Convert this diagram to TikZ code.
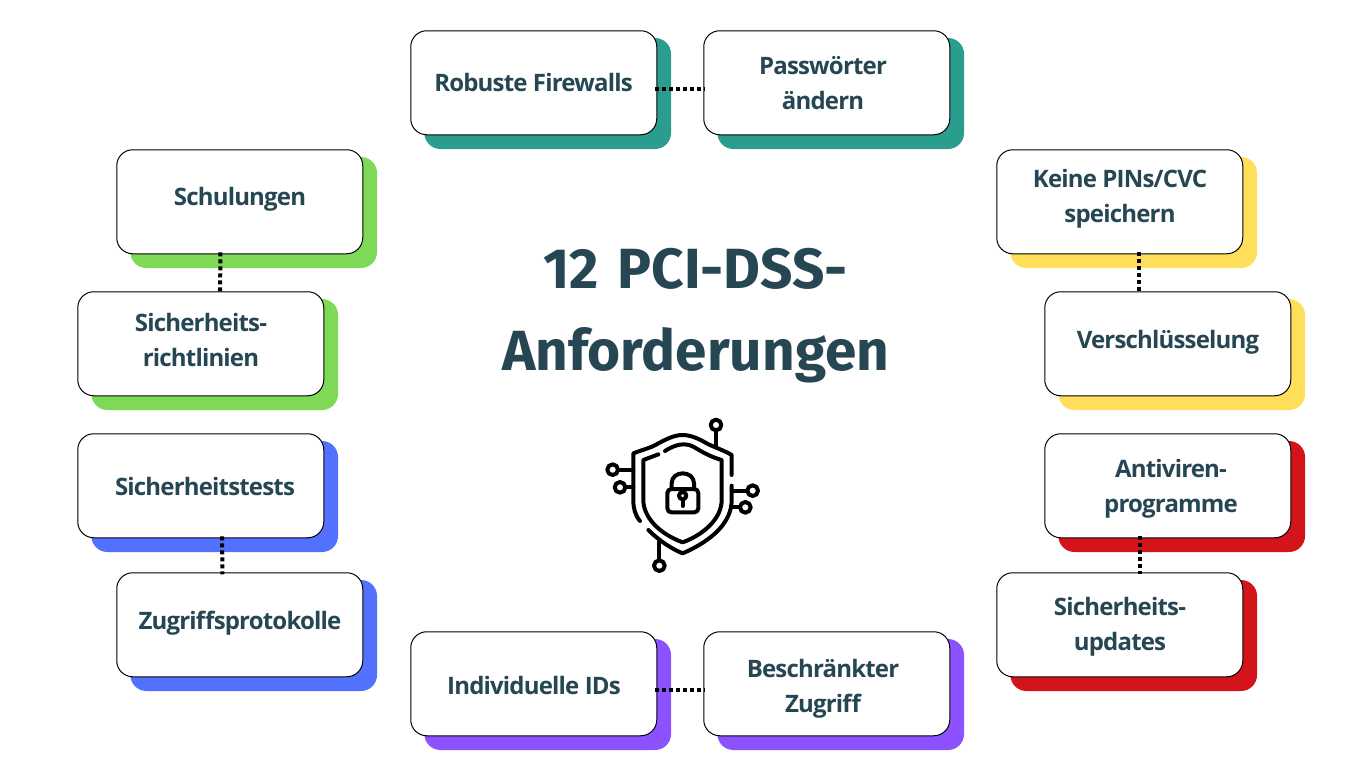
\documentclass[tikz,border=0pt]{standalone}
\usepackage{fontspec}
\setmainfont[LetterSpace=-3.4]{Open Sans}
\newfontfamily\titlefont{Fira Sans}
\definecolor{ink}{HTML}{264653}
\definecolor{cteal}{HTML}{2A9D8F}
\definecolor{cgreen}{HTML}{7ED957}
\definecolor{cblue}{HTML}{5271FF}
\definecolor{cpurple}{HTML}{8C52FF}
\definecolor{cyellow}{HTML}{FFDE59}
\definecolor{cred}{HTML}{D3151B}
\tikzset{
  cardbox/.style={draw=black,line width=0.75pt,fill=white,rounded corners=12pt,minimum width=184.5pt,minimum height=78pt,inner sep=0pt},
  cardshadow/.style={fill=#1,rounded corners=12pt,minimum width=185pt,minimum height=83.25pt,inner sep=0pt},
  cardtext/.style={text=ink,font=\fontsize{18}{26}\selectfont\bfseries,align=center,inner sep=0pt},
  dotline/.style={draw=black,line width=3pt,dash pattern=on 3pt off 2.25pt,shorten <=-1.5pt,shorten >=-1.5pt},
  iconline/.style={draw=black,line width=3pt,line cap=round,line join=round},
  iconring/.style={draw=black,line width=3pt,circle,minimum size=8pt,inner sep=0pt,fill=white}
}
\newcommand{\card}[7]{% name, cx, cy, colour, tx, ty, text
  \node[cardshadow=#4] (#1s) at (#2+13.7,#3+10.5) {};
  \node[cardbox] (#1) at (#2-0.25,#3-0.25) {};
  \node[cardtext] (#1t) at (#5,#6) {#7};
}
\begin{document}
\begin{tikzpicture}[x=0.75pt,y=-0.75pt]
\useasboundingbox (0,0) rectangle (1366,768);
\card{fw}{534}{83}{cteal}{533.5}{82.5}{Robuste Firewalls}
\card{pw}{827}{83}{cteal}{823}{83}{Passwörter\\ändern}
\card{sc}{240}{202}{cgreen}{240}{199}{Schulungen}
\card{rl}{201}{344}{cgreen}{201}{340}{Sicherheits-\\richtlinien}
\card{st}{201}{486}{cblue}{205}{486}{Sicherheitstests}
\card{zp}{240}{625}{cblue}{240}{623}{Zugriffsprotokolle}
\card{id}{534}{684}{cpurple}{534}{685}{Individuelle IDs}
\card{bz}{827}{684}{cpurple}{823}{689}{Beschränkter\\Zugriff}
\card{pin}{1120}{202}{cyellow}{1120}{198.5}{Keine PINs/CVC\\speichern}
\card{vs}{1168}{344}{cyellow}{1168}{342}{Verschlüsselung}
\card{av}{1168}{486}{cred}{1171}{489}{Antiviren-\\programme}
\card{su}{1120}{625}{cred}{1120}{626.5}{Sicherheits-\\updates}

\draw[dotline] ([yshift=-4.5pt]fw.east) -- ([yshift=-4.5pt]pw.west);
\draw[dotline] ([yshift=-4.5pt]id.east) -- ([yshift=-4.5pt]bz.west);
\draw[dotline] ([xshift=-14.6pt]sc.south) -- ([xshift=14.6pt]rl.north);
\draw[dotline] ([xshift=16.1pt]st.south) -- ([xshift=-13.1pt]zp.north);
\draw[dotline] ([xshift=14.6pt]pin.south) -- ([xshift=-21.4pt]vs.north);
\draw[dotline] ([xshift=-20.6pt]av.south) -- ([xshift=15.4pt]su.north);

\node[text=ink,font=\titlefont\fontsize{42.5}{61.5}\selectfont\bfseries,align=center,inner sep=0pt] (title) at (695.5,315.5) {12\hspace{4pt} PCI-DSS-\\Anforderungen};

\begin{scope}[shift={(590,405)},x=0.25pt,y=-0.25pt,iconline]
  % outer shield
  \draw (425,210) -- (425,150) .. controls (400,135) and (375,128) .. (350,115) .. controls (325,100) and (300,90) .. (278,90) .. controls (250,90) and (225,105) .. (205,115) .. controls (185,128) and (155,135) .. (130,145) -- (130,285) .. controls (130,310) and (135,330) .. (150,348);
  \draw (425,242) -- (425,285) .. controls (425,350) and (370,405) .. (278,445) .. controls (245,432) and (205,405) .. (175,375);
  % inner shield
  \draw (205,148) -- (160,165) -- (160,285) .. controls (160,335) and (205,385) .. (278,412) .. controls (350,385) and (395,335) .. (395,285) -- (395,165) .. controls (360,155) and (335,140) .. (310,125) .. controls (285,112) and (255,118) .. (225,138);
  % lock
  \draw[rounded corners=3pt] (232,252) rectangle (325,322);
  \draw (245,252) -- (245,235) .. controls (245,195) and (312,195) .. (312,235) -- (312,252);
  \draw (278,272) circle (11);
  \draw (278,283) -- (278,303);
  % circuit leads
  \draw (378,60) -- (378,125);
  \node[iconring] (c1) at (378,60) {};
  \draw (130,194) -- (82,194);
  \node[iconring] (c2) at (68,194) {};
  \draw (130,247) -- (105,247);
  \node[iconring] (c3) at (90,247) {};
  \draw (425,257) -- (474,257);
  \node[iconring] (c4) at (488,257) {};
  \draw (425,307) -- (452,307);
  \node[iconring] (c5) at (466,307) {};
  \draw (208,410) -- (208,468);
  \node[iconring] (c6) at (208,482) {};
\end{scope}
\end{tikzpicture}
\end{document}
